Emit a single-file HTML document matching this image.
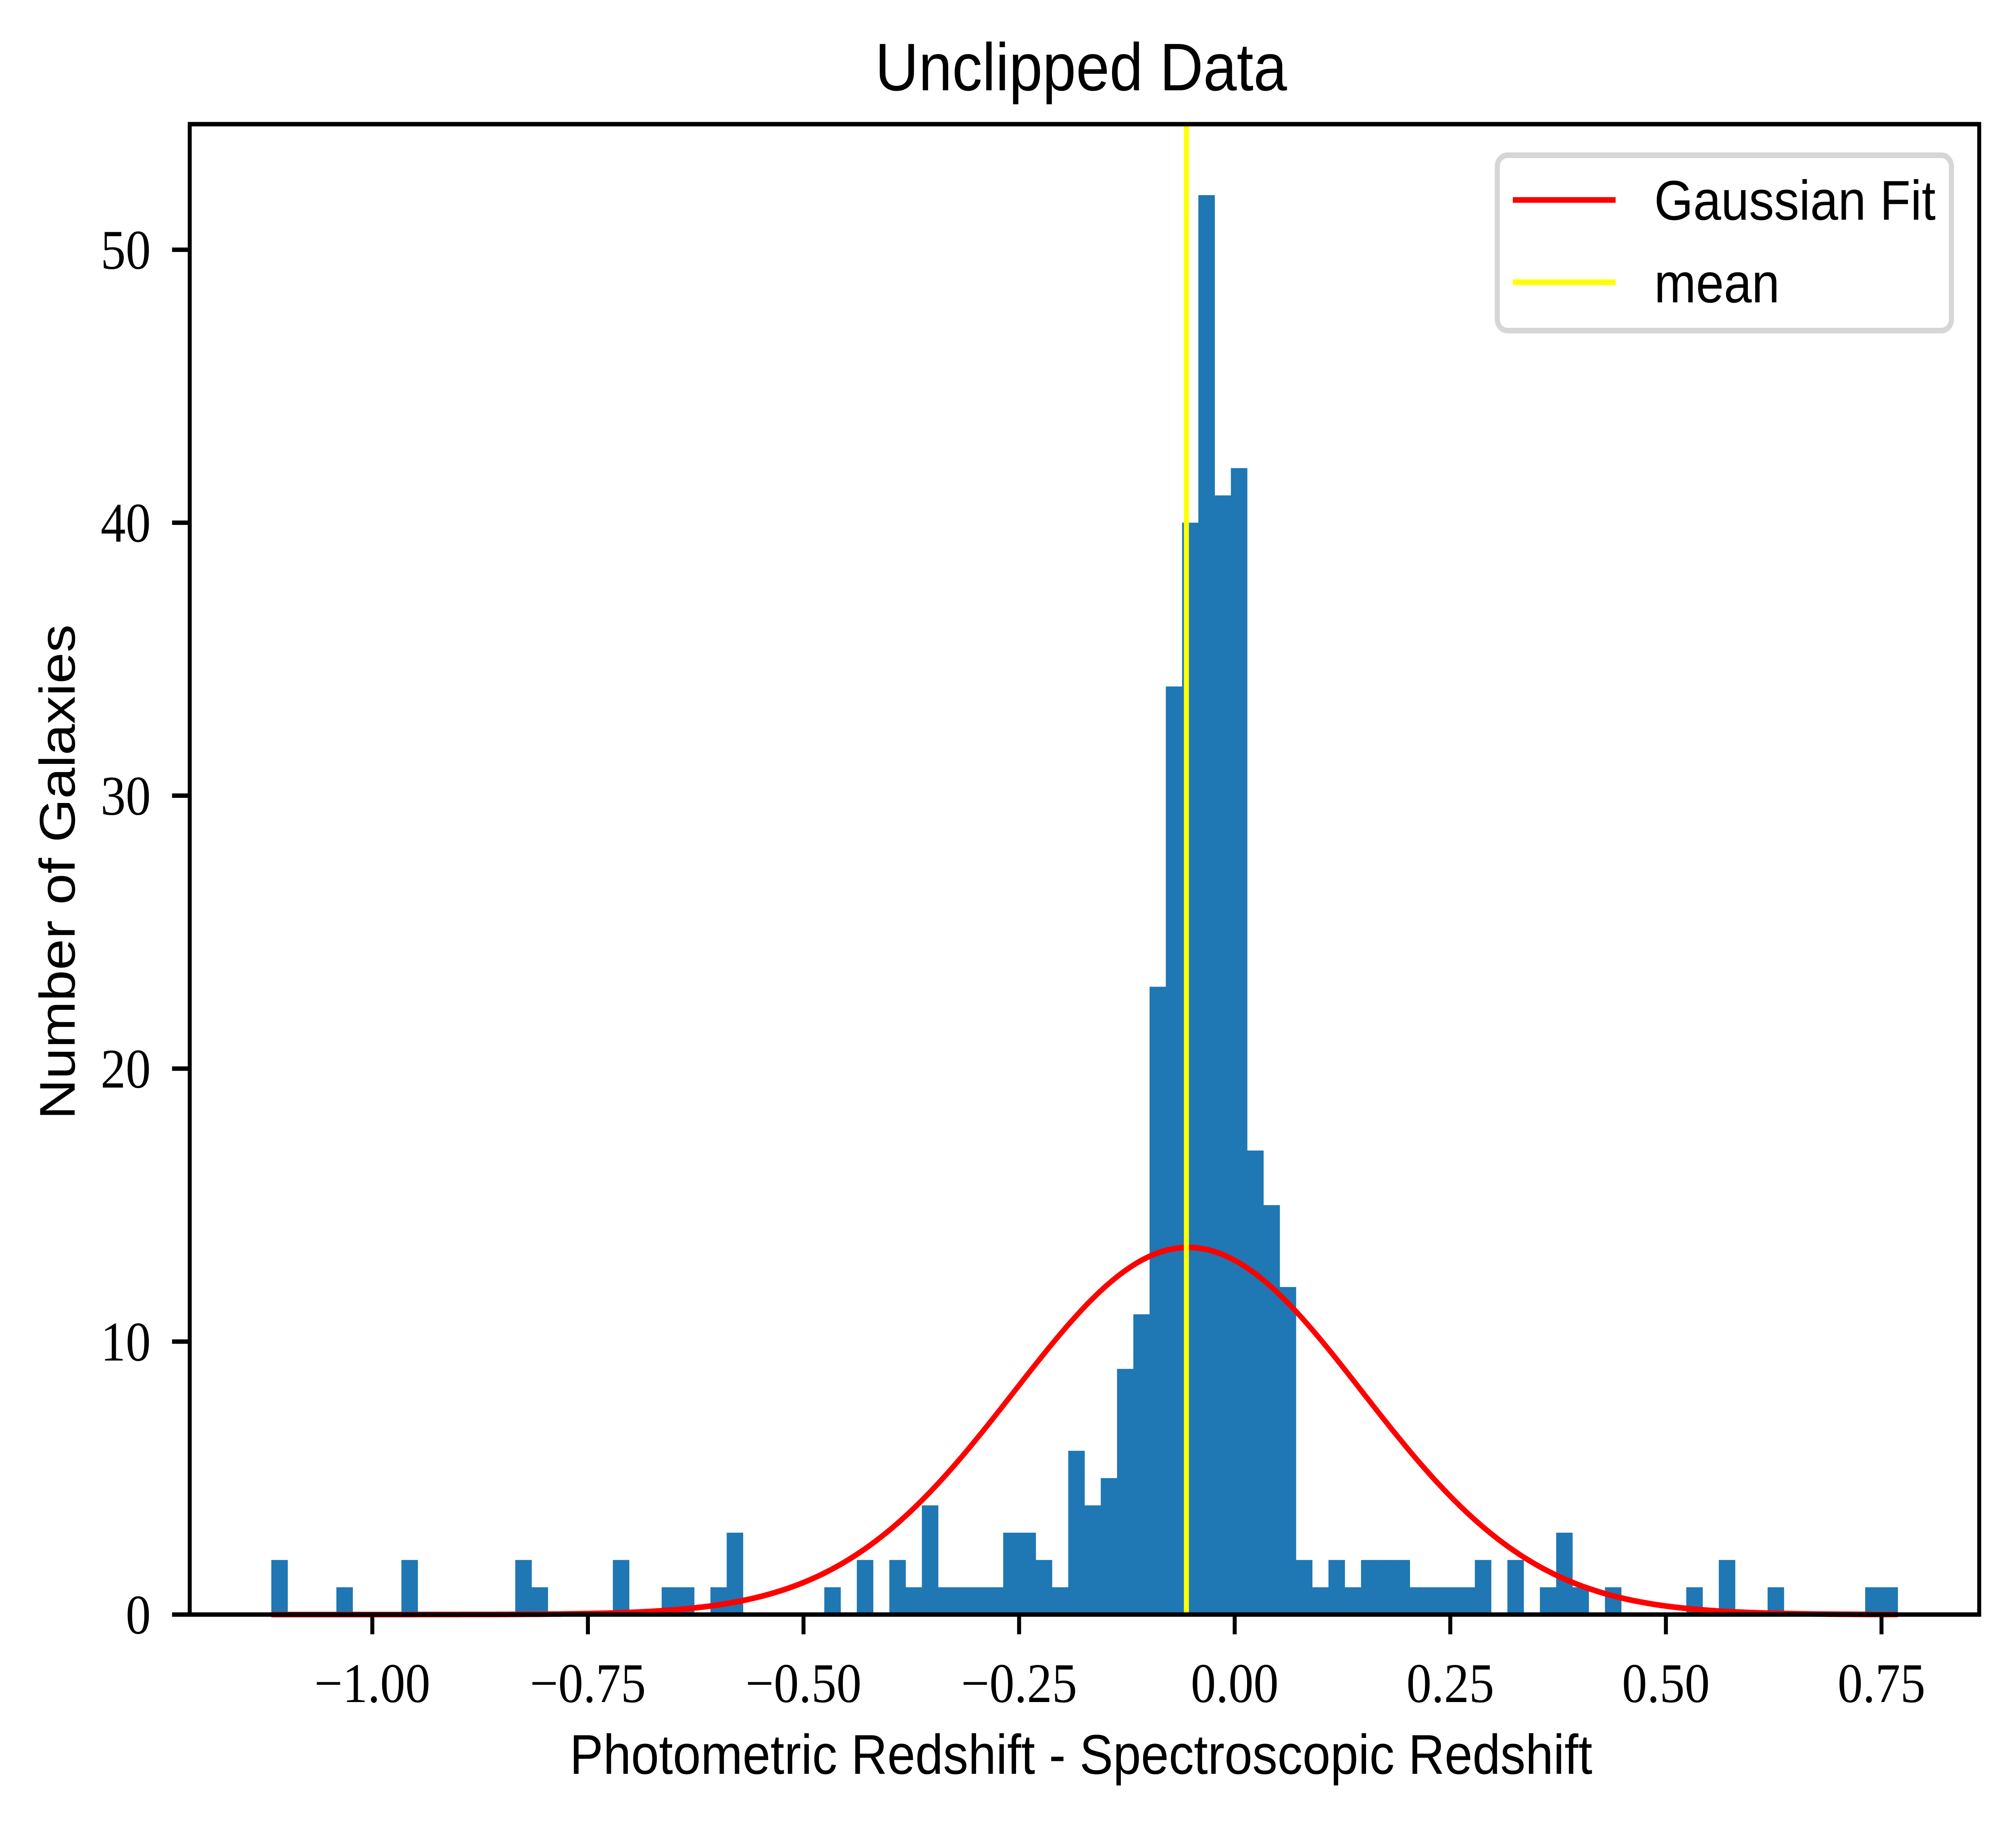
<!DOCTYPE html>
<html><head><meta charset="utf-8"><title>Unclipped Data</title>
<style>
html,body{margin:0;padding:0;background:#fff;overflow:hidden;width:100vw;height:100vh;}
svg{display:block;position:absolute;left:0;top:0;width:100vw;height:100vh;}
</style></head>
<body>
<svg id="chart" xmlns="http://www.w3.org/2000/svg" viewBox="0 0 5589 4527" preserveAspectRatio="none">
<rect x="0" y="0" width="5589" height="4527" fill="#fff"/>
<g id="bars"></g>
<g id="curve"></g>
<g id="meanline"></g>
<g id="axes"></g>
<text x="2997" y="224" text-anchor="middle" font-family="Liberation Sans, sans-serif" font-size="167">Unclipped Data</text>
<text x="2997" y="4400" text-anchor="middle" font-family="Liberation Sans, sans-serif" font-size="139">Photometric Redshift - Spectroscopic Redshift</text>
<text transform="translate(207,2163) rotate(-90)" text-anchor="middle" font-family="Liberation Sans, sans-serif" font-size="139">Number of Galaxies</text>
<g>
<rect x="4151" y="385" width="1259" height="435" rx="28" ry="28" fill="#fff" fill-opacity="0.8" stroke="#d6d6d6" stroke-width="14"/>
<g>
<line x1="4194" y1="496" x2="4479" y2="496" stroke="#ff0000" stroke-width="14"/>
<text x="4586" y="545" font-family="Liberation Sans, sans-serif" font-size="139">Gaussian Fit</text>
</g>
<g>
<line x1="4194" y1="700" x2="4479" y2="700" stroke="#ffff00" stroke-width="14"/>
<text x="4586" y="750" font-family="Liberation Sans, sans-serif" font-size="139">mean</text>
</g>
</g>
</svg>
<script>
// ---- data ----
const binStart = -1.1171;
const binWidth = 0.018859;
const counts = [2,0,0,0,1,0,0,0,2,0, 0,0,0,0,0,2,1,0,0,0, 0,2,0,0,1,1,0,1,3,0,
  0,0,0,0,1,0,2,0,2,1, 4,1,1,1,1,3,3,2,1,6, 4,5,9,11,23,34,40,52,41,42,
  17,15,12,2,1,2,1,2,2,2, 1,1,1,1,2,0,2,0,1,3, 1,0,1,0,0,0,0,1,0,2,
  0,0,1,0,0,0,0,0,1,1];
const gaussAmp = [13.45];
const gaussMu = [-0.054];
const gaussSigma = [0.202];
const meanValue = [-0.056];
const xTickValues = [-1.00,-0.75,-0.50,-0.25,0.00,0.25,0.50,0.75];
const xTickLabels = ["\u22121.00","\u22120.75","\u22120.50","\u22120.25","0.00","0.25","0.50","0.75"];
const yTickValues = [0,10,20,30,40,50];
const yTickLabels = ["0","10","20","30","40","50"];

// ---- axes ----
const L=526,R=5487,T=308,B=4005;
const xMin=-1.2117,xMax=0.8633,yMin=0,yMax=54.6;
function xs(v){return L+(v-xMin)/(xMax-xMin)*(R-L);}
function ys(v){return B-(v-yMin)/(yMax-yMin)*(B-T);}
const NS='http://www.w3.org/2000/svg';
function mk(tag,attrs,parent){const e=document.createElementNS(NS,tag);for(const k in attrs)e.setAttribute(k,attrs[k]);parent.appendChild(e);return e;}

const gb=document.getElementById('bars');
counts.forEach((c,i)=>{
  if(c<=0)return;
  const x0=xs(binStart+i*binWidth),x1=xs(binStart+(i+1)*binWidth);
  const r=mk('rect',{x:x0,y:ys(c),width:x1-x0+0.6,height:ys(0)-ys(c),fill:'#1f77b4'},gb);
  
  
});

const gc=document.getElementById('curve');
let d='';
const xa=binStart,xb=binStart+counts.length*binWidth;
for(let k=0;k<=600;k++){
  const v=xa+(xb-xa)*k/600;
  const g=gaussAmp[0]*Math.exp(-Math.pow(v-gaussMu[0],2)/(2*gaussSigma[0]*gaussSigma[0]));
  d+=(k?'L':'M')+xs(v).toFixed(1)+','+ys(g).toFixed(1);
}
const p=mk('path',{d:d,fill:'none',stroke:'#ff0000','stroke-width':14,'stroke-linejoin':'round'},gc);



const gm=document.getElementById('meanline');
const ml=mk('line',{x1:xs(meanValue[0]),x2:xs(meanValue[0]),y1:T,y2:B,stroke:'#ffff00','stroke-width':14},gm);



const ga=document.getElementById('axes');
const frame=mk('rect',{x:L,y:T,width:R-L,height:B-T,fill:'none',stroke:'#000','stroke-width':11},ga);


xTickValues.forEach((v,i)=>{
  const x=xs(v);
  const t=mk('line',{x1:x,x2:x,y1:B,y2:B+49,stroke:'#000','stroke-width':11},ga);
  
  
  const lb=mk('text',{x:x,y:4222,'text-anchor':'middle','font-family':'Liberation Serif, serif','font-size':139},ga);
  lb.textContent=xTickLabels[i];
  
  
});
yTickValues.forEach((v,i)=>{
  const y=ys(v);
  const t=mk('line',{x1:L-49,x2:L,y1:y,y2:y,stroke:'#000','stroke-width':11},ga);
  
  
  const lb=mk('text',{x:418,y:y+47,'text-anchor':'end','font-family':'Liberation Serif, serif','font-size':139},ga);
  lb.textContent=yTickLabels[i];
  
  
});
</script>
</body></html>
